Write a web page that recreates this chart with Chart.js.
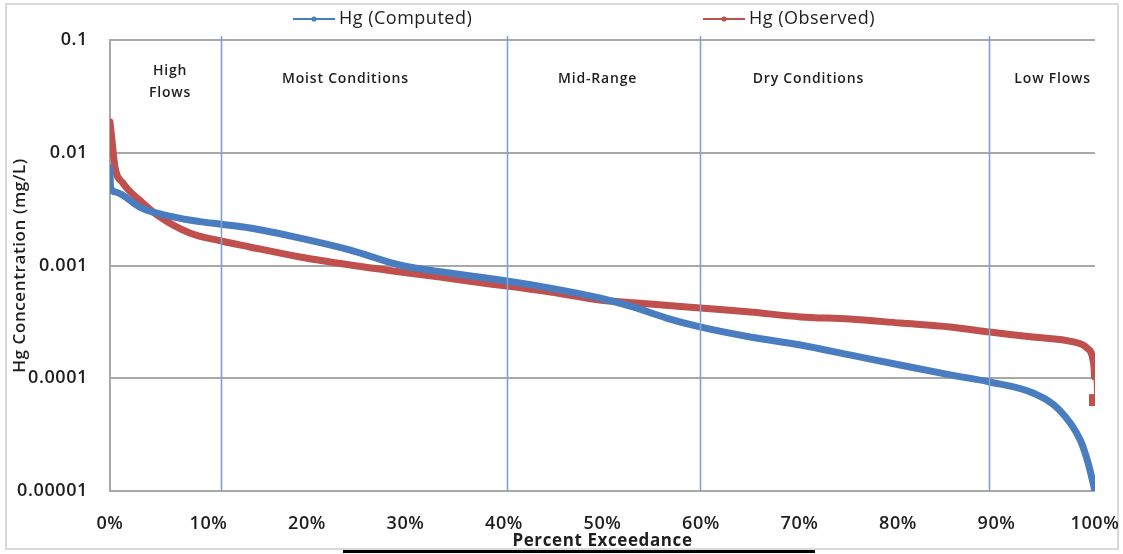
<!DOCTYPE html>
<html>
<head>
<meta charset="utf-8">
<script src="https://cdn.jsdelivr.net/npm/chart.js@4/dist/chart.umd.min.js"></script>
<style>
  html, body { margin: 0; padding: 0; background: #fff; }
  #wrap { position: relative; width: 1123px; height: 554px; overflow: hidden; background: #fff; }
  #frame { position: absolute; left: 5px; top: 3px; width: 1110px; height: 543px; border: 2px solid #d9d9d9; box-sizing: content-box; }
  #rule { position: absolute; left: 343px; top: 550px; width: 472px; height: 3px; background: #000; }
  canvas { position: absolute; left: 0; top: 0; }
</style>
</head>
<body>
<div id="wrap">
  <div id="frame"></div>
  <canvas id="c" width="1123" height="554"></canvas>
  <div id="rule"></div>
</div>
<script>
// Series names
const seriesNames = ['Hg (Computed)', 'Hg (Observed)'];

// Computed mercury concentration (mg/L) against percent exceedance
const pctComputed = [0, 0.05, 0.5, 1.3, 3.0, 6.4, 9.1, 11.3, 14.2, 19.3, 24.4, 29.4, 34.5, 39.6, 44.7, 49.7, 53.1, 56.5, 59.9, 65.0, 70.1, 75.1, 80.2, 85.3, 89.3, 93.7, 96.4, 98.5, 99.3, 100];
const hgComputed  = [0.0073, 0.0050, 0.0045, 0.0042, 0.0033, 0.0027, 0.00245, 0.00232, 0.00215, 0.00175, 0.00137, 0.00101, 0.000857, 0.000743, 0.00063, 0.000515, 0.000429, 0.000342, 0.000285, 0.000232, 0.000197, 0.000161, 0.000131, 0.000107, 0.0000927, 0.000074, 0.0000522, 0.0000283, 0.0000177, 0.00001];

// Observed mercury concentration (mg/L) against percent exceedance
const pctObserved = [0, 0.2, 0.5, 1.3, 3.0, 4.8, 8.1, 11.3, 14.2, 19.3, 24.4, 28.9, 33.5, 38.6, 40.3, 44.7, 49.7, 54.8, 59.9, 65.0, 70.1, 75.1, 80.2, 85.3, 89.3, 93.7, 97.8, 99.2, 99.8, 99.95, 100];
const hgObserved  = [0.0187, 0.0130, 0.0075, 0.0054, 0.0038, 0.0028, 0.00194, 0.00165, 0.00146, 0.00119, 0.00101, 0.00089, 0.00079, 0.000686, 0.000658, 0.000582, 0.000494, 0.000456, 0.00042, 0.000387, 0.00035, 0.000335, 0.000309, 0.000285, 0.000257, 0.000232, 0.00021, 0.000185, 0.000145, 0.000103, 0.000064];

// Axis ticks
const xTickValues = [0, 10, 20, 30, 40, 50, 60, 70, 80, 90, 100];
const xTickLabels = ['0%', '10%', '20%', '30%', '40%', '50%', '60%', '70%', '80%', '90%', '100%'];
const yTickValues = [0.00001, 0.0001, 0.001, 0.01, 0.1];
const yTickLabels = ['0.00001', '0.0001', '0.001', '0.01', '0.1'];

// Flow zones: boundaries (percent exceedance) and names
const zoneBounds = [11.3, 40.3, 59.9, 89.2];
const zoneNames  = [['High', 'Flows'], ['Moist Conditions'], ['Mid-Range'], ['Dry Conditions'], ['Low Flows']];

// Where each zone name sits along the x axis
const zoneLabelAt = [6.1, 23.9, 49.5, 70.9, 95.7];

const FONT = '"Open Sans", "DejaVu Sans", sans-serif';
const BLUE = '#4a7dbf';
const RED = '#c0504d';
const GRID = '#a8a8a8';
const TEXT = '#1e1e1e';

const toPoints = (xs, ys) => xs.map((x, i) => ({ x: x, y: ys[i] }));

// Slightly widened lettering for every label on the canvas
const spacingPlugin = {
  id: 'spacing',
  beforeDraw(chart) { chart.ctx.letterSpacing = '0.6px'; }
};

// Divider lines, zone names and the legend row
const zonesPlugin = {
  id: 'zones',
  afterDatasetsDraw(chart) {
    const { ctx, chartArea, scales } = chart;
    ctx.save();
    ctx.strokeStyle = '#7ea3d3';
    ctx.lineWidth = 1.6;
    zoneBounds.forEach(v => {
      const px = Math.round(scales.x.getPixelForValue(v)) + 0.5;
      ctx.beginPath();
      ctx.moveTo(px, chartArea.top - 4);
      ctx.lineTo(px, chartArea.bottom);
      ctx.stroke();
    });
    ctx.fillStyle = TEXT;
    ctx.font = '600 14px ' + FONT;
    ctx.letterSpacing = '0.8px';
    ctx.textAlign = 'center';
    ctx.textBaseline = 'middle';
    zoneNames.forEach((lines, i) => {
      const px = scales.x.getPixelForValue(zoneLabelAt[i]);
      if (lines.length === 2) {
        ctx.fillText(lines[0], px, 71);
        ctx.fillText(lines[1], px, 93);
      } else {
        ctx.fillText(lines[0], px, 79);
      }
    });
    ctx.restore();
  },
  afterDraw(chart) {
    const { ctx } = chart;
    const items = [
      { x: 293, color: BLUE, label: chart.data.datasets[0].label },
      { x: 703, color: RED, label: chart.data.datasets[1].label }
    ];
    ctx.save();
    ctx.font = '18px ' + FONT;
    ctx.letterSpacing = '0.5px';
    ctx.textBaseline = 'middle';
    ctx.textAlign = 'left';
    items.forEach(it => {
      const y = 19;
      ctx.strokeStyle = it.color;
      ctx.lineWidth = 2;
      ctx.beginPath();
      ctx.moveTo(it.x, y);
      ctx.lineTo(it.x + 42, y);
      ctx.stroke();
      ctx.fillStyle = it.color;
      ctx.beginPath();
      ctx.arc(it.x + 21, y, 2.6, 0, Math.PI * 2);
      ctx.fill();
      ctx.fillStyle = TEXT;
      ctx.fillText(it.label, it.x + 46, y);
    });
    ctx.restore();
  }
};

const lastObs = hgObserved.length - 1;

new Chart(document.getElementById('c'), {
  type: 'line',
  data: {
    datasets: [
      {
        label: seriesNames[0],
        data: toPoints(pctComputed, hgComputed),
        borderColor: BLUE,
        backgroundColor: BLUE,
        borderWidth: 7,
        borderCapStyle: 'round',
        borderJoinStyle: 'round',
        pointRadius: 0,
        cubicInterpolationMode: 'monotone',
        fill: false
      },
      {
        label: seriesNames[1],
        data: toPoints(pctObserved, hgObserved),
        borderColor: RED,
        backgroundColor: RED,
        borderWidth: 7,
        borderCapStyle: 'round',
        borderJoinStyle: 'round',
        pointRadius: hgObserved.map((v, i) => (i === lastObs ? 3.5 : 0)),
        pointStyle: 'rect',
        cubicInterpolationMode: 'monotone',
        fill: false,
        segment: {
          borderWidth: c => (c.p1DataIndex === lastObs ? 1.8 : 7)
        }
      }
    ]
  },
  options: {
    responsive: false,
    animation: false,
    devicePixelRatio: 1,
    layout: { padding: { left: 0, right: 28, top: 40, bottom: 0 } },
    plugins: {
      legend: { display: false },
      tooltip: { enabled: false }
    },
    scales: {
      x: {
        type: 'linear',
        min: 0,
        max: 100,
        afterBuildTicks: s => { s.ticks = xTickValues.map(v => ({ value: v })); },
        afterFit: s => { s.height = 63; s.paddingLeft = 0; s.paddingRight = 0; },
        ticks: {
          callback: (v, i) => xTickLabels[i],
          padding: 22,
          maxRotation: 0,
          autoSkip: false,
          color: TEXT,
          font: { family: FONT, size: 18, weight: '600' }
        },
        grid: { display: false, drawTicks: false },
        border: { display: false },
        title: {
          display: true,
          text: 'Percent Exceedance',
          color: TEXT,
          font: { family: FONT, size: 17, weight: 'bold' },
          padding: { top: 0, bottom: 3 }
        }
      },
      y: {
        type: 'logarithmic',
        min: 0.00001,
        max: 0.1,
        afterBuildTicks: s => { s.ticks = yTickValues.map(v => ({ value: v, major: true })); },
        afterFit: s => { s.width = 110; s.paddingTop = 0; s.paddingBottom = 0; },
        ticks: {
          callback: (v, i) => yTickLabels[i],
          padding: 22,
          color: TEXT,
          font: { family: FONT, size: 18, weight: '600' }
        },
        grid: { color: GRID, lineWidth: 2, drawTicks: false },
        border: { display: true, color: GRID, width: 2 },
        title: {
          display: true,
          text: 'Hg Concentration (mg/L)',
          color: TEXT,
          font: { family: FONT, size: 17, weight: '600' },
          padding: { top: 10, bottom: 0 }
        }
      }
    }
  },
  plugins: [spacingPlugin, zonesPlugin]
});
</script>
</body>
</html>
